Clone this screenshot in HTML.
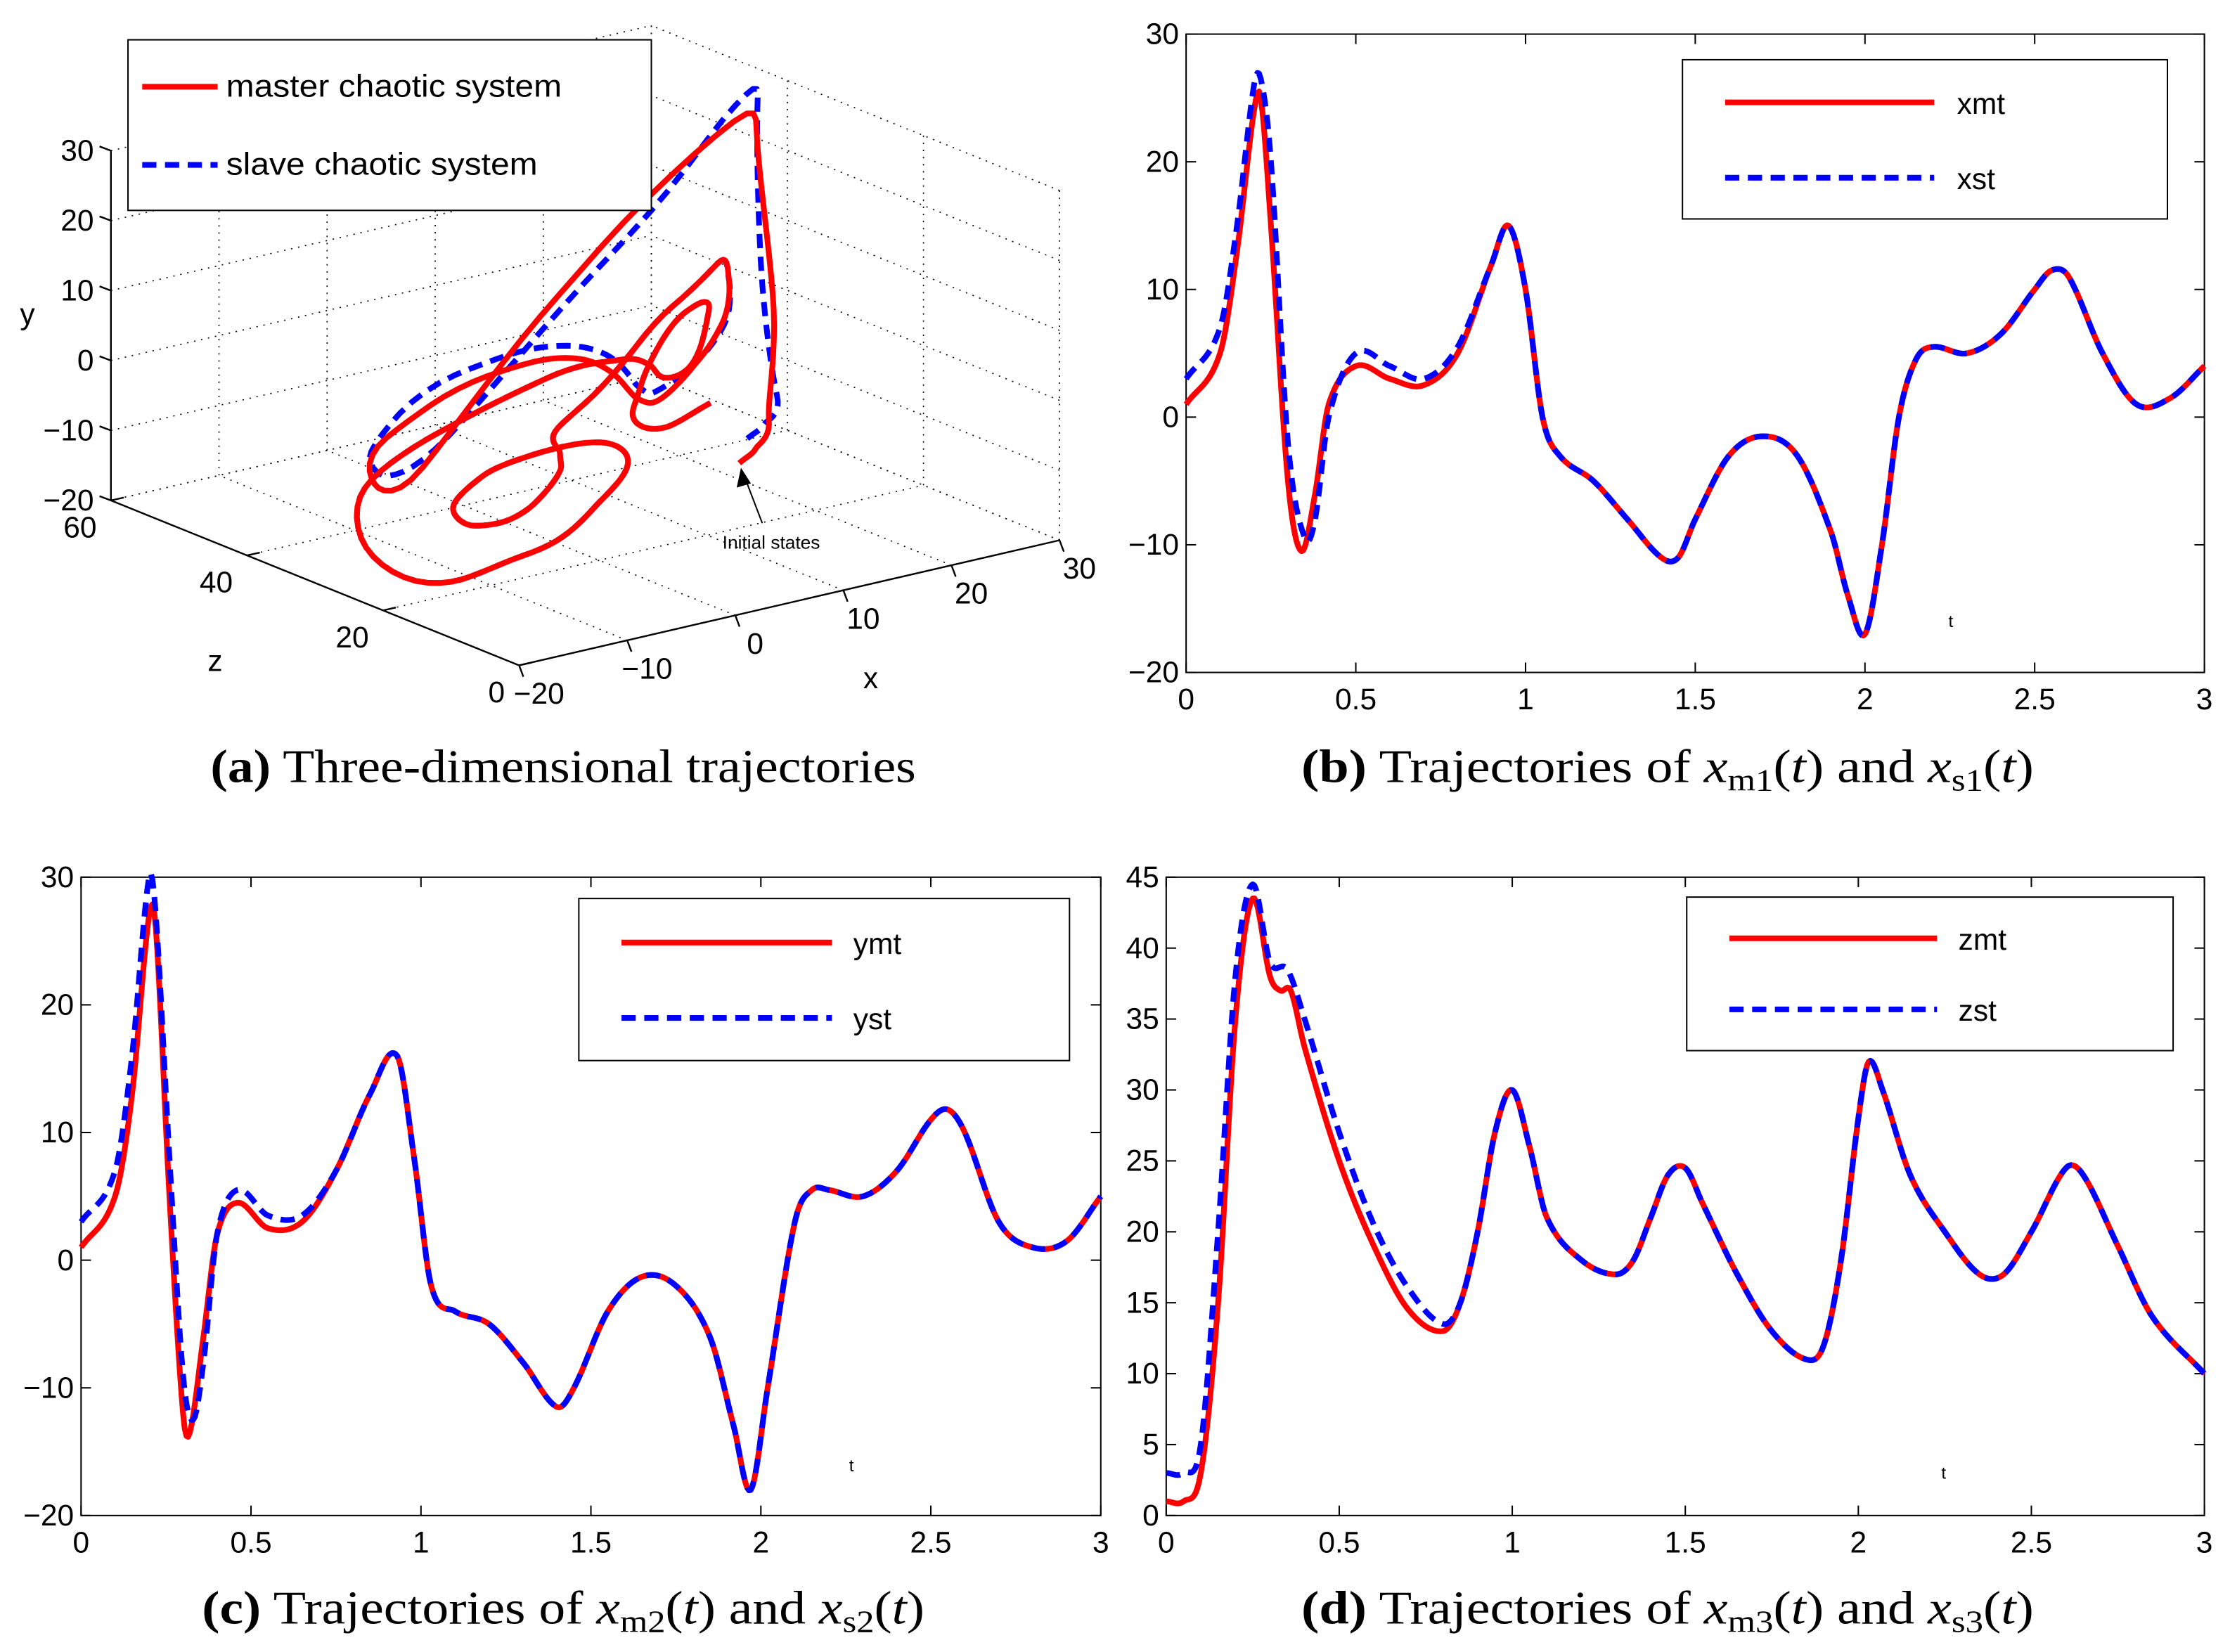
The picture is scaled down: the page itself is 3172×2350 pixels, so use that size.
<!DOCTYPE html>
<html><head><meta charset="utf-8">
<style>
html,body{margin:0;padding:0;background:#fff;}
svg{display:block;}
text{font-family:"Liberation Sans",sans-serif;}
.cap{font-family:"Liberation Serif",serif;font-size:33px;}
</style></head>
<body>
<svg id="fig" width="3172" height="2350" viewBox="0 0 1568 1162" preserveAspectRatio="none" xmlns="http://www.w3.org/2000/svg">
<rect width="1568" height="1162" fill="#fff"/>
<g id="p3d"></g>
<g id="pb"></g>
<g id="pc"></g>
<g id="pd"></g>
<text class="cap" x="148" y="550" textLength="496" lengthAdjust="spacingAndGlyphs"><tspan font-weight="bold">(a)</tspan> Three-dimensional trajectories</text>
<text class="cap" x="915" y="550" textLength="515" lengthAdjust="spacingAndGlyphs"><tspan font-weight="bold">(b)</tspan> Trajectories of <tspan font-style="italic">x</tspan><tspan font-size="22" dy="6">m1</tspan><tspan dy="-6">(</tspan><tspan font-style="italic">t</tspan>) and <tspan font-style="italic">x</tspan><tspan font-size="22" dy="6">s1</tspan><tspan dy="-6">(</tspan><tspan font-style="italic">t</tspan>)</text>
<text class="cap" x="142" y="1142" textLength="508" lengthAdjust="spacingAndGlyphs"><tspan font-weight="bold">(c)</tspan> Trajectories of <tspan font-style="italic">x</tspan><tspan font-size="22" dy="6">m2</tspan><tspan dy="-6">(</tspan><tspan font-style="italic">t</tspan>) and <tspan font-style="italic">x</tspan><tspan font-size="22" dy="6">s2</tspan><tspan dy="-6">(</tspan><tspan font-style="italic">t</tspan>)</text>
<text class="cap" x="915" y="1142" textLength="515" lengthAdjust="spacingAndGlyphs"><tspan font-weight="bold">(d)</tspan> Trajectories of <tspan font-style="italic">x</tspan><tspan font-size="22" dy="6">m3</tspan><tspan dy="-6">(</tspan><tspan font-style="italic">t</tspan>) and <tspan font-style="italic">x</tspan><tspan font-size="22" dy="6">s3</tspan><tspan dy="-6">(</tspan><tspan font-style="italic">t</tspan>)</text>
</svg>
<script>
// ---------- data ----------
const tX = [0,0.1,0.15,0.2,0.22,0.25,0.3,0.34,0.38,0.42,0.5,0.6,0.7,0.8,0.9,0.95,1.0,1.05,1.1,1.2,1.3,1.4,1.45,1.5,1.6,1.7,1.8,1.9,1.95,2.0,2.05,2.1,2.15,2.2,2.3,2.4,2.5,2.55,2.6,2.7,2.8,2.9,3.0];
const xMaster = [1,5,13,24,25,15,-5,-10.5,-6,1,4,3,2.5,5,12,15,10,0,-3,-5,-8,-11,-11,-8,-3,-1.5,-3,-9,-14,-17,-10,0,4.5,5.5,5,6.5,10,11.5,11,5,1,1.5,4];
const tXs = [0,0.1,0.15,0.2,0.22,0.25,0.3,0.35,0.38,0.42,0.5,0.6,0.7,0.8];
const xSlaveEarly = [3,7,15,26,26.5,20,-2,-9.5,-8,0,5,4,3,5.5];

const tY = [0,0.1,0.15,0.2,0.22,0.26,0.3,0.32,0.36,0.4,0.46,0.55,0.65,0.75,0.85,0.93,0.98,1.03,1.1,1.2,1.3,1.4,1.45,1.55,1.65,1.75,1.85,1.92,1.97,2.02,2.1,2.15,2.2,2.3,2.4,2.5,2.55,2.6,2.7,2.8,2.9,3.0];
const yMaster = [1,5,13,27,26,5,-12,-13.5,-6,2,4.5,2.5,3,7,13,16,8,-2,-4,-5,-8,-11.5,-10,-4,-1.3,-2,-6,-13,-18,-10,3,5.5,5.5,5,7,11,11.8,10,3,1,1.5,5];
const tYs = [0,0.1,0.15,0.2,0.22,0.26,0.3,0.33,0.36,0.4,0.46,0.55,0.65,0.75];
const ySlaveEarly = [3,7,16,30,27,8,-9,-12.5,-8,2,5.5,3.5,3.5,7];

const tZ = [0,0.05,0.1,0.15,0.2,0.25,0.3,0.33,0.36,0.4,0.5,0.6,0.7,0.8,0.85,0.9,0.95,1.0,1.05,1.1,1.2,1.3,1.35,1.4,1.45,1.5,1.55,1.65,1.75,1.85,1.9,1.95,2.0,2.03,2.07,2.15,2.25,2.35,2.42,2.5,2.6,2.65,2.75,2.85,3.0];
const zMaster = [1,1,3,15,35,43.5,38,37,37,33,25,19,14.5,13,15,20,27,30,26,21,18,17,18,21,24,24.5,22,17,13,11,12,18,28,32,30,24,20,17,17,20,24.5,24,19,14,10];
const tZs = [0,0.05,0.1,0.15,0.2,0.25,0.3,0.35,0.4,0.5,0.6,0.7,0.8];
const zSlaveEarly = [3,3,5,20,38,44.5,39,38.5,35,27,20.5,16,13.5];

function joinTail(tE,vE,tM,vM){const t=tE.slice(),v=vE.slice();const last=tE[tE.length-1];tM.forEach((tt,i)=>{if(tt>last+1e-9){t.push(tt);v.push(vM[i]);}});return [t,v];}
const [tXS,xSlave]=joinTail(tXs,xSlaveEarly,tX,xMaster);
const [tYS,ySlave]=joinTail(tYs,ySlaveEarly,tY,yMaster);
const [tZS,zSlave]=joinTail(tZs,zSlaveEarly,tZ,zMaster);

// ---------- helpers ----------
const NS="http://www.w3.org/2000/svg";
function el(tag,attrs,parent){const e=document.createElementNS(NS,tag);for(const k in attrs)e.setAttribute(k,attrs[k]);parent.appendChild(e);return e;}
function interp(ts,vs,t){
  const n=ts.length;if(t<=ts[0])return vs[0];if(t>=ts[n-1])return vs[n-1];
  let i=0;while(ts[i+1]<t)i++;
  const h=ts[i+1]-ts[i],s=(t-ts[i])/h;
  const m=j=>{if(j===0)return (vs[1]-vs[0])/(ts[1]-ts[0]);if(j===n-1)return (vs[n-1]-vs[n-2])/(ts[n-1]-ts[n-2]);return (vs[j+1]-vs[j-1])/(ts[j+1]-ts[j-1]);};
  const s2=s*s,s3=s2*s;
  return (2*s3-3*s2+1)*vs[i]+(s3-2*s2+s)*h*m(i)+(-2*s3+3*s2)*vs[i+1]+(s3-s2)*h*m(i+1);
}
const TS=[];for(let k=0;k<=600;k++)TS.push(k*0.005);

// ---------- 2D charts ----------
function chart2d(g,cfg){
  const {x0,x1,y0,y1,ymin,ymax,yticks,series,tpos,lgBox,lgNames}=cfg;
  const X=t=>x0+(t/3)*(x1-x0), Y=v=>y1-(v-ymin)/(ymax-ymin)*(y1-y0);
  const box=el('rect',{x:x0,y:y0,width:x1-x0,height:y1-y0,fill:'none',stroke:'#000','stroke-width':1},g);
  
  const xt=[0,0.5,1,1.5,2,2.5,3],xl=['0','0.5','1','1.5','2','2.5','3'];
  xt.forEach((v,i)=>{
    el('line',{x1:X(v),x2:X(v),y1:y1,y2:y1-7,stroke:'#000'},g);el('line',{x1:X(v),x2:X(v),y1:y0,y2:y0+7,stroke:'#000'},g);
    const tx=el('text',{x:X(v),y:y1+26,'font-size':21,'text-anchor':'middle'},g);tx.textContent=xl[i];
    
  });
  yticks.forEach(v=>{
    el('line',{x1:x0,x2:x0+7,y1:Y(v),y2:Y(v),stroke:'#000'},g);el('line',{x1:x1,x2:x1-7,y1:Y(v),y2:Y(v),stroke:'#000'},g);
    const tx=el('text',{x:x0-5,y:Y(v)+7,'font-size':21,'text-anchor':'end'},g);tx.textContent=(v<0?'\u2212':'')+Math.abs(v);
    
  });
  series.forEach((s,i)=>{
    const pts=TS.map(t=>X(t).toFixed(2)+','+Y(interp(s.t,s.v,t)).toFixed(2)).join(' ');
    const p=el('polyline',{points:pts,fill:'none',stroke:s.c,'stroke-width':4,'stroke-dasharray':s.d||'none','stroke-linejoin':'round'},g);
    
  });
  const tl=el('text',{x:tpos[0],y:tpos[1],'font-size':12},g);tl.textContent='t';
  
  const lg=el('g',{},g);
  const [lx,ly,lw,lh,la,lb,r1,r2,tx0]=lgBox;
  el('rect',{x:lx,y:ly,width:lw,height:lh,fill:'#fff',stroke:'#000'},lg);
  el('line',{x1:la,x2:lb,y1:r1,y2:r1,stroke:'#f00','stroke-width':4},lg);
  el('line',{x1:la,x2:lb,y1:r2,y2:r2,stroke:'#00f','stroke-width':4,'stroke-dasharray':'10 6'},lg);
  const e1=el('text',{x:tx0,y:r1+8,'font-size':21},lg);e1.textContent=lgNames[0];
  
  const e2=el('text',{x:tx0,y:r2+8,'font-size':21},lg);e2.textContent=lgNames[1];
  
}
const R='#f00',B='#00f',DASH='10 6';
chart2d(document.getElementById('pb'),{x0:834,x1:1550,y0:24,y1:473,ymin:-20,ymax:30,yticks:[-20,-10,0,10,20,30],
  series:[{t:tX,v:xMaster,c:R},{t:tXS,v:xSlave,c:B,d:DASH}],tpos:[1370,441],
  lgBox:[1183,42,341,112,1213,1360,72,125,1376],lgNames:['xmt','xst']});
chart2d(document.getElementById('pc'),{x0:57,x1:774,y0:617,y1:1066,ymin:-20,ymax:30,yticks:[-20,-10,0,10,20,30],
  series:[{t:tY,v:yMaster,c:R},{t:tYS,v:ySlave,c:B,d:DASH}],tpos:[597,1035],
  lgBox:[407,632,345,114,437,585,663,716,600],lgNames:['ymt','yst']});
chart2d(document.getElementById('pd'),{x0:820,x1:1550,y0:617,y1:1066,ymin:0,ymax:45,yticks:[0,5,10,15,20,25,30,35,40,45],
  series:[{t:tZ,v:zMaster,c:R},{t:tZS,v:zSlave,c:B,d:DASH}],tpos:[1365,1040],
  lgBox:[1186,631,342,108,1216,1362,660,710,1377],lgNames:['zmt','zst']});

// ---------- 3D panel ----------
(function(){
  const g=document.getElementById('p3d');
  const O=[365,468];
  const P=(x,y,z)=>[O[0]+(x+20)/50*380+z/60*(-287), O[1]+(x+20)/50*(-88)+z/60*(-116)+(y+20)/50*(-246)];
  const grid={stroke:'#000','stroke-width':0.8,'stroke-dasharray':'1 4',fill:'none'};
  const L=(a,b,att)=>el('line',Object.assign({x1:a[0],y1:a[1],x2:b[0],y2:b[1]},att),g);
  const xs=[-20,-10,0,10,20,30],zs=[0,20,40,60],ys=[-20,-10,0,10,20,30];
  xs.forEach(x=>L(P(x,-20,0),P(x,-20,60),grid));
  zs.forEach(z=>L(P(-20,-20,z),P(30,-20,z),grid));
  xs.forEach(x=>L(P(x,-20,60),P(x,30,60),grid));
  ys.forEach(y=>L(P(-20,y,60),P(30,y,60),grid));
  zs.forEach(z=>L(P(30,-20,z),P(30,30,z),grid));
  ys.forEach(y=>L(P(30,y,0),P(30,y,60),grid));
  const ax={stroke:'#000','stroke-width':1.2};
  L(P(-20,-20,0),P(-20,-20,60),ax);L(P(-20,-20,0),P(30,-20,0),ax);L(P(-20,-20,60),P(-20,30,60),ax);
  const lab=(txt,p,anchor,name)=>{const t=el('text',{x:p[0],y:p[1],'font-size':21,'text-anchor':anchor},g);t.textContent=txt;};
  const fmt=v=>(v<0?'\u2212':'')+Math.abs(v);
  ys.forEach(y=>{const p=P(-20,y,60);L(p,[p[0]-8,p[1]-3],ax);lab(fmt(y),[p[0]-12,p[1]+7],'end','y-tick-label');});
  zs.forEach(z=>{const p=P(-20,-20,z);L(p,[p[0]+9,p[1]-2],ax);lab(fmt(z),[p[0]-10,p[1]+26],'end','z-tick-label');});
  xs.forEach(x=>{const p=P(x,-20,0);L(p,[p[0]+3,p[1]+8],ax);lab(fmt(x),[p[0]+14,p[1]+27],'middle','x-tick-label');});
  lab('y',[14,228],'start','y-axis-title');lab('z',[146,472],'start','z-axis-title');lab('x',[607,484],'start','x-axis-title');
  const tr=(tx,vx,ty,vy,tz,vz,att,name)=>{
    const pts=TS.map(t=>{const p=P(interp(tx,vx,t),interp(ty,vy,t),interp(tz,vz,t));return p[0].toFixed(2)+','+p[1].toFixed(2);}).join(' ');
    const e=el('polyline',Object.assign({points:pts,fill:'none','stroke-width':4,'stroke-linejoin':'round'},att),g);
    
  };
  tr(tXS,xSlave,tYS,ySlave,tZS,zSlave,{stroke:B,'stroke-dasharray':DASH},'slave-trajectory');
  tr(tX,xMaster,tY,yMaster,tZ,zMaster,{stroke:R},'master-trajectory');
  L([536,368],[523,334],{stroke:'#000','stroke-width':1});
  el('polygon',{points:'521,329 518,343 528,340',fill:'#000'},g);
  const an=el('text',{x:508,y:386,'font-size':13},g);an.textContent='Initial states';
  
  const lg=el('g',{},g);
  el('rect',{x:90,y:28,width:368,height:120,fill:'#fff',stroke:'#000'},lg);
  el('line',{x1:100,x2:153,y1:61,y2:61,stroke:R,'stroke-width':4},lg);
  el('line',{x1:100,x2:153,y1:116,y2:116,stroke:B,'stroke-width':4,'stroke-dasharray':DASH},lg);
  const a=el('text',{x:159,y:68,'font-size':22,textLength:236,lengthAdjust:'spacingAndGlyphs'},lg);a.textContent='master chaotic system';
  
  const b=el('text',{x:159,y:123,'font-size':22,textLength:219,lengthAdjust:'spacingAndGlyphs'},lg);b.textContent='slave chaotic system';
  
})();
</script>
</body></html>
